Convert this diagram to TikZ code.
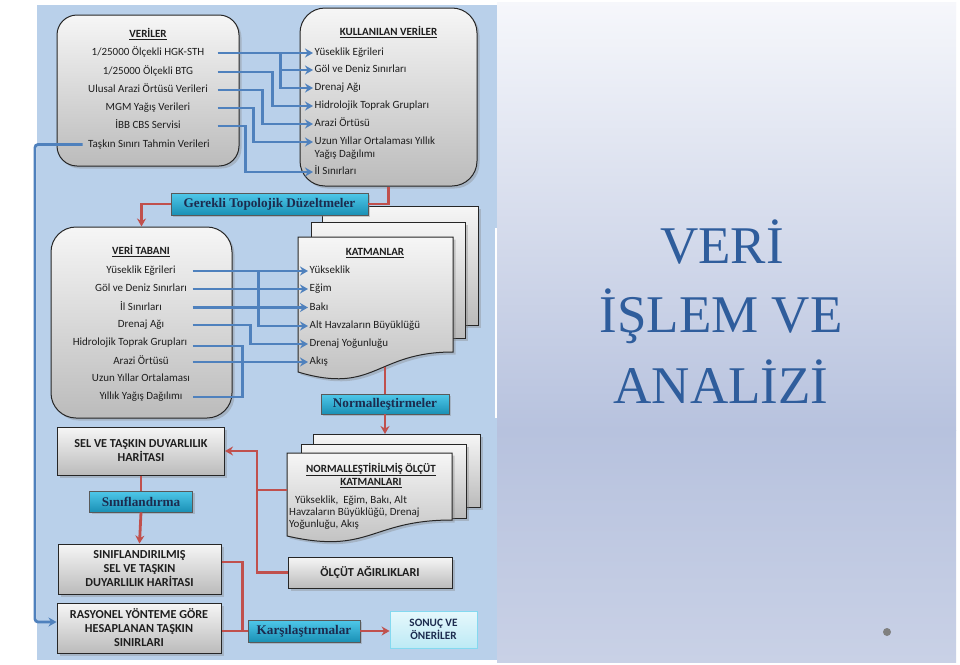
\documentclass[tikz,border=0pt]{standalone}
\usepackage{fontspec}
\setmainfont{Carlito}
\newfontfamily\titlefont{Liberation Serif}
\usetikzlibrary{shadows,arrows.meta,calc}
\definecolor{panel}{HTML}{B9D0EA}
\definecolor{bluec}{HTML}{4F81BD}
\definecolor{redc}{HTML}{C0504D}
\definecolor{gtop}{HTML}{F6F6F6}
\definecolor{gbot}{HTML}{BBBBBB}
\definecolor{ctop}{HTML}{4FC8EA}
\definecolor{cbot}{HTML}{1A90B5}
\definecolor{navyc}{HTML}{1C2B4E}
\definecolor{titlec}{HTML}{2F5D9C}
\definecolor{txtc}{HTML}{1E1E1E}
\definecolor{bgtop}{HTML}{F6F7FB}
\definecolor{bgmid}{HTML}{B7C2DE}
\definecolor{bgbot}{HTML}{C9D1E6}
\definecolor{stop}{HTML}{E6F8FC}
\definecolor{sbot}{HTML}{BDEAF5}
\begin{document}
\begin{tikzpicture}[x=1pt,y=-1pt,
  gbox/.style={draw=black!85, line width=1pt, top color=gtop, bottom color=gbot,
    drop shadow={shadow xshift=2.5pt,shadow yshift=-2.5pt,opacity=0.35}},
  cbox/.style={draw=black!65, line width=0.7pt, top color=ctop, bottom color=cbot,
    drop shadow={shadow xshift=2pt,shadow yshift=-2pt,opacity=0.35},
    font=\titlefont\bfseries\fontsize{13.2}{15}\selectfont, text=navyc, inner sep=0pt},
  itm/.style={font=\fontsize{11}{13}\selectfont, text=txtc, inner sep=1.5pt,
    text height=7.5pt, text depth=2.3pt},
  hd/.style={itm, font=\bfseries\fontsize{11}{13}\selectfont},
  lbl/.style={font=\bfseries\fontsize{12.2}{14}\selectfont, text=txtc, align=center},
  blueline/.style={draw=bluec, line width=2.8pt},
  bluearrow/.style={blueline, -{Stealth[length=8pt,width=9pt]}},
  redline/.style={draw=redc, line width=2.8pt},
  redarrow/.style={redline, -{Stealth[length=8pt,width=9pt]}}
]
\useasboundingbox (0,0) rectangle (960,664);
% backgrounds
\fill[white] (0,0) rectangle (960,664);
\shade[top color=bgtop, bottom color=bgmid] (497,2) rectangle (956,430);
\shade[top color=bgmid, bottom color=bgbot] (497,430) rectangle (956,662);
\fill[panel] (37,5) rectangle (497,660);
\draw[white, line width=1.2pt] (496,228) -- (496,418);

% title
\node[font=\titlefont\fontsize{53}{60}\selectfont, text=titlec, anchor=base] (ti1) at (722,263) {VERİ};
\node[font=\titlefont\fontsize{53}{60}\selectfont, text=titlec, anchor=base] (ti2) at (721,332) {İŞLEM VE};
\node[font=\titlefont\fontsize{53}{60}\selectfont, text=titlec, anchor=base] (ti3) at (721,403) {ANALİZİ};
\fill[black!50] (887,632) circle (4);
\node[circle, inner sep=0pt, minimum size=8pt] (dot) at (887,632) {};

% ---------- VERILER ----------
\node[gbox, rounded corners=20pt, minimum width=182pt, minimum height=151pt] (veriler) at (148,90.5) {};
\node[hd] (v0) at (148,35) {\underline{VERİLER}};
\node[itm] (v1) at (148,53) {1/25000 Ölçekli HGK-STH};
\node[itm] (v2) at (148,72) {1/25000 Ölçekli BTG};
\node[itm] (v3) at (148,90) {Ulusal Arazi Örtüsü Verileri};
\node[itm] (v4) at (148,108) {MGM Yağış Verileri};
\node[itm] (v5) at (148,126) {İBB CBS Servisi};
\node[itm] (v6) at (149,144.5) {Taşkın Sınırı Tahmin Verileri};

% ---------- KULLANILAN VERILER ----------
\node[gbox, rounded corners=25pt, minimum width=177pt, minimum height=178pt] (kull) at (388.5,97) {};
\node[hd] (k0) at (388.5,33) {\underline{KULLANILAN VERİLER}};
\node[itm, anchor=west] (k1) at (313,53) {Yüseklik Eğrileri};
\node[itm, anchor=west] (k2) at (313,70) {Göl ve Deniz Sınırları};
\node[itm, anchor=west] (k3) at (313,88) {Drenaj Ağı};
\node[itm, anchor=west] (k4) at (313,106) {Hidrolojik Toprak Grupları};
\node[itm, anchor=west] (k5) at (313,124) {Arazi Örtüsü};
\node[itm, anchor=west] (k6) at (313,142) {Uzun Yıllar Ortalaması Yıllık};
\node[itm, anchor=west] (k6b) at (313,155) {Yağış Dağılımı};
\node[itm, anchor=west] (k7) at (313,172) {İl Sınırları};

% ---------- stacks ----------
\path[gbox] (322,206) rectangle (478,325);
\path[gbox] (311,222) rectangle (465,338);
\path[gbox] (298,237) -- (453,237) -- (453,352) .. controls (375,352) and (375,395) .. (298,372) -- cycle;
\coordinate (katB) at (385,367);

\path[gbox] (313,434) rectangle (480,507);
\path[gbox] (301,444) rectangle (466,518);
\path[gbox] (287,453) -- (452,453) -- (452,520) .. controls (370,520) and (370,555) .. (287,536) -- cycle;
\coordinate (nb) at (385,434);
\coordinate (normL) at (287,490);

% KATMANLAR text
\node[hd] (t0) at (375,253) {\underline{KATMANLAR}};
\node[itm, anchor=west] (t1) at (308,271) {Yükseklik};
\node[itm, anchor=west] (t2) at (308,289) {Eğim};
\node[itm, anchor=west] (t3) at (308,307.5) {Bakı};
\node[itm, anchor=west] (t4) at (308,326) {Alt Havzaların Büyüklüğü};
\node[itm, anchor=west] (t5) at (308,344) {Drenaj Yoğunluğu};
\node[itm, anchor=west] (t6) at (308,362) {Akış};

% NORMALLESTIRILMIS text
\node[lbl, font=\bfseries\fontsize{11}{13.5}\selectfont] (nh) at (371,475.5) {\underline{NORMALLEŞTİRİLMİŞ ÖLÇÜT}\\\underline{KATMANLARI}};
\node[itm, anchor=west] (nb1) at (291,501) {\ Yükseklik,\ \ Eğim, Bakı, Alt};
\node[itm, anchor=west] (nb2) at (287.5,513) {Havzaların Büyüklüğü, Drenaj};
\node[itm, anchor=west] (nb3) at (287.5,525) {Yoğunluğu, Akış};

% ---------- VERI TABANI ----------
\node[gbox, rounded corners=25pt, minimum width=181pt, minimum height=191pt] (dtab) at (141.5,322.5) {};
\node[hd] (d0) at (141,252) {\underline{VERİ TABANI}};
\node[itm] (d1) at (141,271) {Yüseklik Eğrileri};
\node[itm] (d2) at (141,289) {Göl ve Deniz Sınırları};
\node[itm] (d3) at (141,307.5) {İl Sınırları};
\node[itm] (d4) at (141,325) {Drenaj Ağı};
\node[itm] (d5) at (130,343) {Hidrolojik Toprak Grupları};
\node[itm] (d6) at (141,362) {Arazi Örtüsü};
\node[itm] (d7) at (141,379) {Uzun Yıllar Ortalaması};
\node[itm] (d8) at (141,397) {Yıllık Yağış Dağılımı};

% ---------- cyan labels ----------
\node[cbox, minimum width=197pt, minimum height=22pt] (gerekli) at (269.5,204) {Gerekli Topolojik Düzeltmeler};
\node[cbox, minimum width=128pt, minimum height=20pt] (normz) at (385,404) {Normalleştirmeler};

% ---------- bottom boxes ----------
\node[gbox, lbl, minimum width=167pt, minimum height=48pt] (sel) at (141,451) {SEL VE TAŞKIN DUYARLILIK\\HARİTASI};
\node[cbox, minimum width=103pt, minimum height=21pt] (sinifl) at (141,501.5) {Sınıflandırma};
\node[gbox, lbl, minimum width=163pt, minimum height=50pt] (sinif) at (139.5,569) {SINIFLANDIRILMIŞ\\SEL VE TAŞKIN\\DUYARLILIK HARİTASI};
\node[gbox, lbl, minimum width=164pt, minimum height=50pt] (rasyonel) at (139,628) {RASYONEL YÖNTEME GÖRE\\HESAPLANAN TAŞKIN\\SINIRLARI};
\node[gbox, lbl, minimum width=164pt, minimum height=31pt] (olcut) at (370,572.5) {ÖLÇÜT AĞIRLIKLARI};
\node[cbox, minimum width=112pt, minimum height=22pt] (karsi) at (304,631) {Karşılaştırmalar};
\node[lbl, draw=ctop!70!white, line width=0.8pt, top color=stop, bottom color=sbot, text=navyc,
  minimum width=87pt, minimum height=37pt, font=\bfseries\fontsize{11.2}{13.5}\selectfont] (sonuc) at (433.5,629.5) {SONUÇ VE\\ÖNERİLER};

% ---------- blue connectors, top group ----------
\coordinate (s1) at ($(v1 -| veriler.east)+(-22,0)$);
\coordinate (j1) at ($(s1)+(63,0)$);
\draw[bluearrow] (s1) -- (k1.west);
\draw[bluearrow] (j1) |- (k2.west);
\draw[bluearrow] (j1) |- (k3.west);
\draw[bluearrow] ($(v2 -| veriler.east)+(-22,0)$) -- ++(55,0) |- (k4.west);
\draw[bluearrow] ($(v3 -| veriler.east)+(-22,0)$) -- ++(45,0) |- (k5.west);
\draw[bluearrow] ($(v4 -| veriler.east)+(-22,0)$) -- ++(36,0) |- (k6.west);
\draw[bluearrow] ($(v5 -| veriler.east)+(-22,0)$) -- ++(28,0) |- (k7.west);
\coordinate (lx) at (39,0);
\draw[bluearrow, rounded corners=3pt] ([xshift=-4pt]v6.west) -- ([xshift=-4pt]v6.west -| lx) |- ([yshift=6pt]rasyonel.west);

% ---------- blue connectors, second group ----------
\coordinate (e1) at ($(d1 -| dtab.east)+(-40,0)$);
\coordinate (jd1) at ($(e1)+(66,0)$);
\draw[bluearrow] (e1) -- (t1.west);
\draw[bluearrow] (jd1) |- (t4.west);
\draw[bluearrow] ($(d2 -| dtab.east)+(-40,0)$) -- (t2.west);
\draw[bluearrow] ($(d3 -| dtab.east)+(-40,0)$) -- (t3.west);
\draw[bluearrow] ($(d4 -| dtab.east)+(-40,0)$) -- ++(58,0) |- (t5.west);
\coordinate (e8) at ($(d8 -| dtab.east)+(-40,0)$);
\draw[blueline] ($(d5 -| dtab.east)+(-40,3)$) -- ++(50,0) |- (e8);
\draw[bluearrow] ($(d6 -| dtab.east)+(-40,0)$) -- (t6.west);

% ---------- red connectors ----------
\draw[redline] (kull.south) |- (gerekli.east);
\draw[redarrow] (gerekli.west) -| (dtab.north);
\draw[redline] (katB) -- (normz.north);
\draw[redarrow] (normz.south) -- (nb);
\draw[redline] (sel.south) -- (sinifl.north);
\draw[redarrow] (sinifl.south) -- (sinif.north);
\coordinate (jr) at ($(normL)+(-30,0)$);
\draw[redline] (normL) -- (jr);
\draw[redarrow] (jr) |- (sel.east);
\draw[redline] (olcut.west) -| (jr);
\coordinate (jk) at ($(karsi.west)+(-5,0)$);
\draw[redline] ([yshift=7pt]sinif.east) -| (jk);
\draw[redline] (rasyonel.east |- karsi.west) -- (karsi.west);
\draw[redarrow] (karsi.east) -- (karsi.east -| sonuc.west);
\end{tikzpicture}
\end{document}
